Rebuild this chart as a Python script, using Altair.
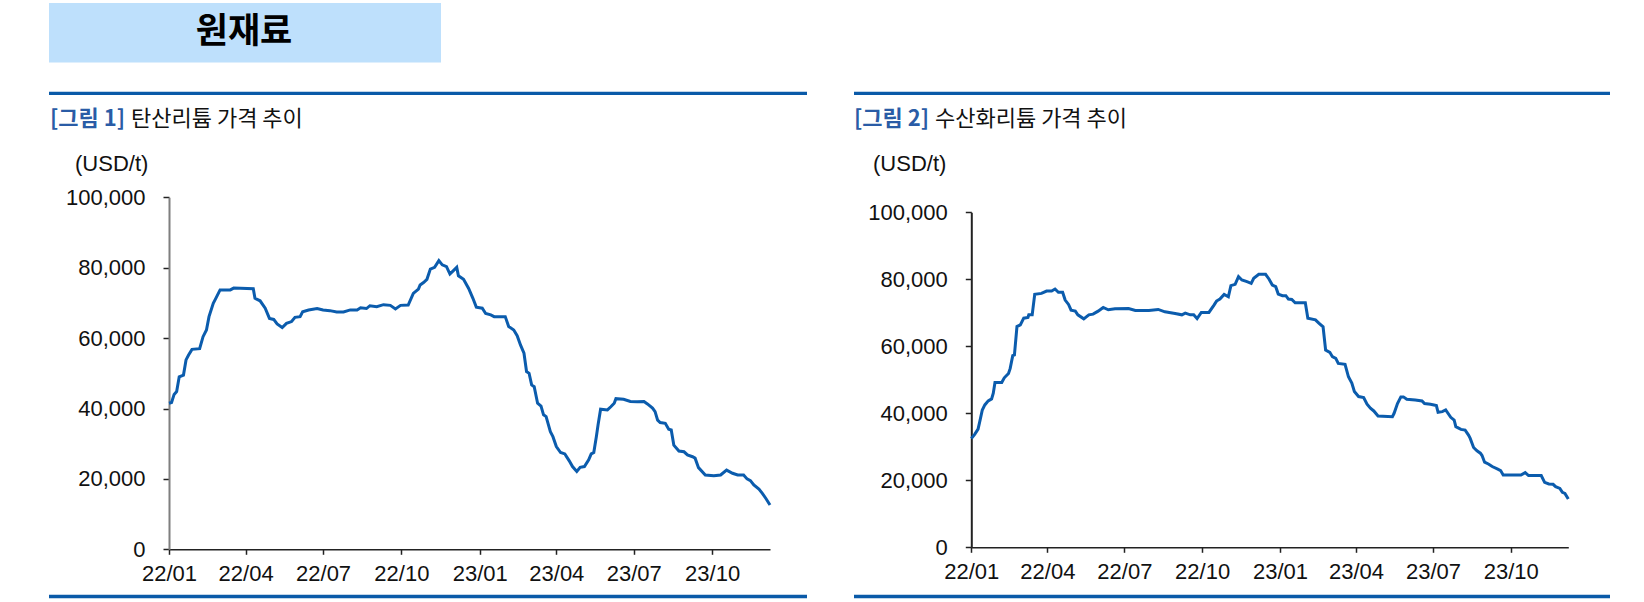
import altair as alt
import pandas as pd

# ---------------- data ----------------
carb_dates = [
    "2022-01-01", "2022-01-04", "2022-01-07", "2022-01-10", "2022-01-13", "2022-01-18", "2022-01-21",
    "2022-01-24", "2022-01-28", "2022-02-06", "2022-02-10", "2022-02-14", "2022-02-17", "2022-02-22",
    "2022-02-25", "2022-03-02", "2022-03-14", "2022-03-18", "2022-04-10", "2022-04-12", "2022-04-18",
    "2022-04-24", "2022-04-29", "2022-05-04", "2022-05-08", "2022-05-14", "2022-05-19", "2022-05-25",
    "2022-05-29", "2022-06-04", "2022-06-07", "2022-06-14", "2022-06-24", "2022-07-01", "2022-07-09",
    "2022-07-17", "2022-07-25", "2022-08-02", "2022-08-10", "2022-08-14", "2022-08-21", "2022-08-25",
    "2022-09-02", "2022-09-10", "2022-09-18", "2022-09-24", "2022-09-30", "2022-10-09", "2022-10-15",
    "2022-10-21", "2022-10-23", "2022-10-27", "2022-10-31", "2022-11-04", "2022-11-09", "2022-11-14",
    "2022-11-18", "2022-11-23", "2022-11-27", "2022-12-02", "2022-12-05", "2022-12-07", "2022-12-13",
    "2022-12-19", "2022-12-24", "2022-12-28", "2023-01-04", "2023-01-08", "2023-01-14", "2023-01-18",
    "2023-01-31", "2023-02-04", "2023-02-10", "2023-02-14", "2023-02-18", "2023-02-22", "2023-02-25",
    "2023-02-28", "2023-03-03", "2023-03-06", "2023-03-10", "2023-03-14", "2023-03-17", "2023-03-20",
    "2023-03-25", "2023-03-28", "2023-04-01", "2023-04-06", "2023-04-11", "2023-04-16", "2023-04-20",
    "2023-04-25", "2023-04-29", "2023-05-04", "2023-05-09", "2023-05-12", "2023-05-15", "2023-05-18",
    "2023-05-20", "2023-05-23", "2023-05-31", "2023-06-04", "2023-06-08", "2023-06-10", "2023-06-19",
    "2023-06-27", "2023-07-05", "2023-07-13", "2023-07-17", "2023-07-23", "2023-07-26", "2023-07-29",
    "2023-08-01", "2023-08-07", "2023-08-11", "2023-08-14", "2023-08-17", "2023-08-23", "2023-08-29",
    "2023-09-02", "2023-09-08", "2023-09-11", "2023-09-15", "2023-09-23", "2023-10-03", "2023-10-11",
    "2023-10-18", "2023-10-25", "2023-10-31", "2023-11-07", "2023-11-11", "2023-11-15", "2023-11-19",
    "2023-11-25", "2023-11-29", "2023-12-03", "2023-12-08",
]
carb_values = [
    41500, 41700, 44000, 44800, 49000, 49500, 53800,
    55200, 56800, 57000, 60400, 62300, 66100, 69900,
    71300, 73700, 73700, 74200, 74000, 71300, 70600,
    68500, 65600, 65300, 64000, 63000, 64200, 64700,
    65900, 66100, 67500, 68000, 68400, 68000, 67800,
    67400, 67400, 68000, 68000, 68600, 68400, 69200,
    68900, 69500, 69300, 68300, 69300, 69400, 72700,
    73900, 75100, 75800, 76700, 79600, 80100, 82000,
    80800, 80300, 78200, 79400, 80100, 77700, 76700,
    74100, 71300, 68800, 68500, 67000, 66600, 66100,
    66100, 63300, 62300, 60700, 58000, 55700, 50500,
    50000, 46700, 46200, 41500, 40700, 38200, 37700,
    33400, 32000, 29200, 27500, 27100, 25200, 23500,
    22100, 23300, 23500, 25400, 27100, 27500, 32000,
    35300, 39800, 39600, 40500, 41500, 42800, 42600,
    42000, 41900, 42000, 41300, 40100, 39100, 36700,
    36000, 35800, 34100, 33900, 29600, 27900, 27700,
    26800, 26300, 25900, 23200, 21100, 20900, 21100,
    22500, 21600, 21100, 21100, 20000, 19500, 18300,
    17100, 15900, 14500, 12600,
]

hydr_dates = [
    "2022-01-01", "2022-01-05", "2022-01-09", "2022-01-11", "2022-01-14", "2022-01-17", "2022-01-21",
    "2022-01-25", "2022-01-27", "2022-01-29", "2022-02-06", "2022-02-09", "2022-02-14", "2022-02-16",
    "2022-02-19", "2022-02-21", "2022-02-24", "2022-02-28", "2022-03-04", "2022-03-09", "2022-03-10",
    "2022-03-14", "2022-03-17", "2022-03-25", "2022-03-31", "2022-04-06", "2022-04-10", "2022-04-14",
    "2022-04-19", "2022-04-22", "2022-04-26", "2022-04-29", "2022-05-04", "2022-05-07", "2022-05-14",
    "2022-05-20", "2022-05-25", "2022-05-31", "2022-06-06", "2022-06-12", "2022-06-20", "2022-07-06",
    "2022-07-14", "2022-07-30", "2022-08-10", "2022-08-18", "2022-08-30", "2022-09-07", "2022-09-11",
    "2022-09-17", "2022-09-21", "2022-09-25", "2022-09-30", "2022-10-09", "2022-10-15", "2022-10-18",
    "2022-10-22", "2022-10-27", "2022-11-01", "2022-11-04", "2022-11-09", "2022-11-13", "2022-11-17",
    "2022-11-23", "2022-11-28", "2022-12-01", "2022-12-07", "2022-12-15", "2022-12-19", "2022-12-23",
    "2022-12-27", "2022-12-30", "2023-01-04", "2023-01-08", "2023-01-11", "2023-01-15", "2023-01-19",
    "2023-01-31", "2023-02-03", "2023-02-12", "2023-02-16", "2023-02-21", "2023-02-24", "2023-03-01",
    "2023-03-04", "2023-03-08", "2023-03-11", "2023-03-19", "2023-03-23", "2023-03-27", "2023-03-30",
    "2023-04-04", "2023-04-10", "2023-04-14", "2023-04-18", "2023-04-22", "2023-04-27", "2023-05-14",
    "2023-05-16", "2023-05-20", "2023-05-24", "2023-05-27", "2023-05-31", "2023-06-10", "2023-06-18",
    "2023-06-21", "2023-06-28", "2023-07-05", "2023-07-07", "2023-07-12", "2023-07-16", "2023-07-22",
    "2023-07-26", "2023-07-28", "2023-08-03", "2023-08-08", "2023-08-12", "2023-08-14", "2023-08-18",
    "2023-08-22", "2023-08-26", "2023-08-28", "2023-08-31", "2023-09-05", "2023-09-09", "2023-09-15",
    "2023-09-19", "2023-09-22", "2023-10-03", "2023-10-13", "2023-10-18", "2023-10-22", "2023-11-06",
    "2023-11-10", "2023-11-15", "2023-11-20", "2023-11-23", "2023-11-28", "2023-12-01", "2023-12-04",
    "2023-12-08",
]
hydr_values = [
    32500, 33700, 35300, 37500, 41000, 42500, 43700,
    44300, 46000, 49200, 49200, 50600, 51900, 53400,
    57200, 57400, 65900, 66400, 68400, 68600, 69400,
    69400, 75500, 75800, 76500, 76500, 77100, 76100,
    76100, 73800, 72500, 70800, 70500, 69400, 68200,
    69400, 69600, 70500, 71600, 70900, 71200, 71300,
    70700, 70700, 71000, 70300, 69800, 69400, 69900,
    69400, 69400, 68300, 70100, 70100, 72300, 73500,
    74100, 75500, 74800, 78100, 78500, 80800, 79800,
    79300, 78800, 80300, 81500, 81500, 80100, 78300,
    77800, 75600, 75100, 75100, 74100, 74000, 73000,
    73000, 68400, 67900, 66900, 65800, 58900, 58200,
    56900, 56400, 54900, 54600, 50900, 49000, 46500,
    45000, 44700, 42700, 41500, 40700, 39200, 39000,
    40000, 42900, 44900, 44900, 44200, 44000, 43700,
    42900, 42700, 42300, 40300, 40500, 41000, 38800,
    38000, 36000, 35200, 35000, 33500, 32500, 29800,
    28800, 28100, 27400, 25400, 24800, 24100, 23400,
    22900, 21600, 21600, 21600, 22300, 21400, 21400,
    19400, 18900, 18800, 18100, 17600, 16400, 16100,
    14400,
]

x_tick_months = [(2022, 1), (2022, 4), (2022, 7), (2022, 10), (2023, 1), (2023, 4), (2023, 7), (2023, 10)]
y_ticks = [0, 20000, 40000, 60000, 80000, 100000]

header_text = "원재료"
fig_labels = ["[그림 1]", "[그림 2]"]
fig_titles = ["탄산리튬 가격 추이", "수산화리튬 가격 추이"]
unit_text = "(USD/t)"

# ---------------- styling ----------------
W, H = 1644, 602
LINE = "#0B5CAD"
RULE = "#0A5AA8"
HEADER_BG = "#BEE0FC"
NUM_FONT = "Liberation Sans"
KR_FONT = "Noto Sans CJK KR"

x_domain = [alt.DateTime(year=2022, month=1, date=1), alt.DateTime(year=2023, month=12, date=8)]
x_values = [alt.DateTime(year=y, month=m, date=1) for y, m in x_tick_months]


def line_panel(dates, values, xr, yr, ydomain_color):
    df = pd.DataFrame({"date": pd.to_datetime(dates), "price": values})
    return alt.Chart(df).mark_line(color=LINE, strokeWidth=3, clip=False).encode(
        x=alt.X(
            "date:T",
            scale=alt.Scale(domain=x_domain, range=xr, nice=False),
            axis=alt.Axis(
                orient="bottom", offset=-(H - yr[0]), values=x_values, format="%y/%m",
                title=None, grid=False, labelFlush=False, labelOverlap=False,
                labelFont=NUM_FONT, labelFontSize=22, labelColor="#111111", labelPadding=9,
                tickSize=5, tickColor="#222222", tickWidth=1.5,
                domainColor="#222222", domainWidth=1.5,
            ),
        ),
        y=alt.Y(
            "price:Q",
            scale=alt.Scale(domain=[0, 100000], range=yr, nice=False, zero=True),
            axis=alt.Axis(
                orient="left", offset=-xr[0], values=y_ticks, format=",d",
                title=None, grid=False, labelFlush=False, labelOverlap=False,
                labelFont=NUM_FONT, labelFontSize=22, labelColor="#111111", labelPadding=18,
                tickSize=6, tickColor="#222222", tickWidth=1.5,
                domainColor=ydomain_color, domainWidth=2,
            ),
        ),
    )


panel1 = line_panel(carb_dates, carb_values, [169, 770], [549.3, 197.3], "#7F7F7F")
panel2 = line_panel(hydr_dates, hydr_values, [971.3, 1568.3], [547.3, 212.3], "#222222")

# header box
header_box = alt.Chart().mark_rect(color=HEADER_BG).encode(
    x=alt.value(49), x2=alt.value(441), y=alt.value(3), y2=alt.value(62.5)
)
header = alt.Chart().mark_text(
    text=header_text, font=KR_FONT, fontSize=35, fontWeight="bold", color="#000000",
    align="center", baseline="middle",
).encode(x=alt.value(244), y=alt.value(32))

layers = [header_box, header]

for i, (rx0, rx1, tx, ux) in enumerate([(49, 807, 50, 75), (854, 1610, 854, 873)]):
    layers.append(alt.Chart().mark_rule(color=RULE, strokeWidth=3.3).encode(
        x=alt.value(rx0), x2=alt.value(rx1), y=alt.value(93.3)))
    layers.append(alt.Chart().mark_rule(color=RULE, strokeWidth=3.3).encode(
        x=alt.value(rx0), x2=alt.value(rx1), y=alt.value(596.5)))
    layers.append(alt.Chart().mark_text(
        text=fig_labels[i], font=KR_FONT, fontSize=22, fontWeight="bold", color="#2A5CA6",
        align="left", baseline="middle").encode(x=alt.value(tx), y=alt.value(118.5)))
    layers.append(alt.Chart().mark_text(
        text=fig_titles[i], font=KR_FONT, fontSize=22, color="#111111",
        align="left", baseline="middle").encode(x=alt.value(tx + 81), y=alt.value(118.5)))
    layers.append(alt.Chart().mark_text(
        text=unit_text, font=NUM_FONT, fontSize=22, color="#111111",
        align="left", baseline="middle").encode(x=alt.value(ux), y=alt.value(163.5)))

chart = alt.layer(*layers, panel1, panel2).resolve_scale(
    x="independent", y="independent"
).properties(
    width=W, height=H, padding=0, autosize=alt.AutoSizeParams(type="none"),
    background="white",
).configure_view(stroke=None)

chart.save("out.html", embed_options={"renderer": "svg", "actions": False})
